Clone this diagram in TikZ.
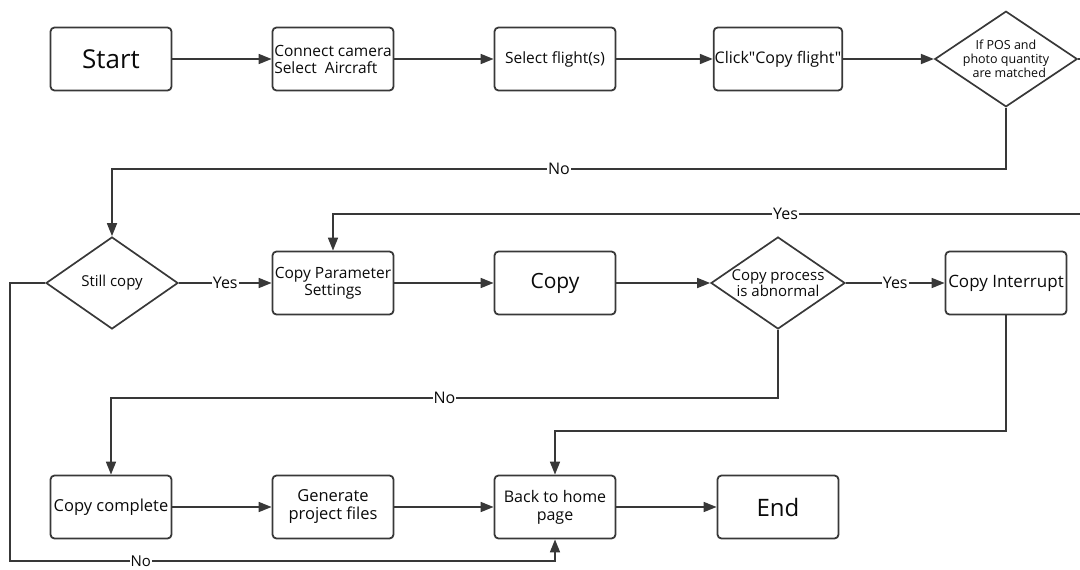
\documentclass[tikz,border=0pt]{standalone}
\usepackage{fontspec}
\setmainfont{Open Sans}[Ligatures=TeXOff]
\usetikzlibrary{shapes.geometric,arrows.meta}
\definecolor{linegray}{HTML}{383838}
\definecolor{ink}{HTML}{0A0A0A}
\begin{document}
\begin{tikzpicture}[x=1pt,y=-1pt,
  line/.style={draw=linegray, line width=1.7pt},
  arr/.style={line, -{Triangle[length=13pt,width=10pt]}},
  box/.style={draw=linegray, line width=1.8pt, rounded corners=4pt,
    minimum width=121pt, minimum height=63pt, inner sep=1pt,
    align=center, text=ink},
  decision/.style={diamond, draw=linegray, line width=1.7pt, inner sep=0pt,
    align=center, text=ink},
  lbl/.style={fill=white, inner sep=1pt, text=ink, font=\fontsize{16}{18}\selectfont}
]
\useasboundingbox (0,0) rectangle (1080,570);
\clip (0,0) rectangle (1080,570);

% first row
\node[box, font=\fontsize{26}{30}\selectfont] (start) at (111,59) {Start};
\node[box, align=left, font=\fontsize{15.5}{17}\selectfont] (connect) at (333,59) {Connect camera\\Select\ \ Aircraft};
\node[box, font=\fontsize{15.5}{18}\selectfont] (select) at (555,59) {Select flight(s)};
\node[box, font=\fontsize{16}{18}\selectfont] (click) at (778,59) {Click"Copy flight"};
\node[decision, aspect=1.49, minimum width=140pt, minimum height=94pt, font=\fontsize{12.5}{14}\selectfont] (match) at (1006,59) {If POS and\\photo quantity\\\ \ are matched};

% second row
\node[decision, aspect=1.43, minimum width=132pt, minimum height=92pt, font=\fontsize{15}{17}\selectfont] (still) at (112,283) {Still copy};
\node[box, font=\fontsize{15.5}{17}\selectfont] (param) at (333,283) {Copy Parameter\\Settings};
\node[box, font=\fontsize{21}{24}\selectfont] (copy) at (555,283) {Copy};
\node[decision, aspect=1.46, minimum width=134pt, minimum height=92pt, font=\fontsize{15}{16}\selectfont] (abnormal) at (778,283) {Copy process\\is abnormal};
\node[box, font=\fontsize{17}{20}\selectfont] (interrupt) at (1006,283) {Copy Interrupt};

% third row
\node[box, font=\fontsize{16.5}{19}\selectfont] (complete) at (111,507) {Copy complete};
\node[box, font=\fontsize{16.5}{18}\selectfont] (generate) at (333,507) {Generate\\project files};
\node[box, font=\fontsize{16}{18}\selectfont] (home) at (555,507) {Back to home\\page};
\node[box, font=\fontsize{24}{28}\selectfont] (finish) at (778,507) {End};

% straight connectors
\draw[arr] (start) -- (connect);
\draw[arr] (connect) -- (select);
\draw[arr] (select) -- (click);
\draw[arr] (click) -- (match);
\draw[arr] (still) -- node[lbl] {Yes} (param);
\draw[arr] (param) -- (copy);
\draw[arr] (copy) -- (abnormal);
\draw[arr] (abnormal) -- node[lbl] {Yes} (interrupt);
\draw[arr] (complete) -- (generate);
\draw[arr] (generate) -- (home);
\draw[arr] (home) -- (finish);

% routed connectors
\coordinate (r1) at (1006,169);
\draw[arr] (match.south) -- (r1) -| node[lbl, pos=0.25] {No} (still.north);

\coordinate (r2a) at (1100,59);
\coordinate (r2b) at (1100,214);
\draw[arr] (match.east) -- (r2a) -- (r2b) -| node[lbl, pos=0.205] {Yes} (param.north);

\coordinate (r3) at (778,398);
\draw[arr] (abnormal.south) -- (r3) -| node[lbl, pos=0.25] {No} (complete.north);

\coordinate (r4) at (1006,431);
\draw[arr] (interrupt.south) -- (r4) -| (home.north);

\coordinate (r5a) at (10,283);
\coordinate (r5b) at (10,561);
\draw[arr] (still.west) -- (r5a) -- (r5b) -| node[lbl, pos=0.12, font=\fontsize{15}{16}\selectfont] {No} (home.south);
\end{tikzpicture}
\end{document}
